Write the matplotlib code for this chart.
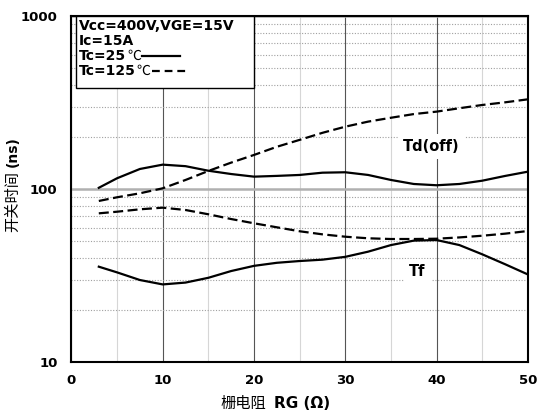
import matplotlib
matplotlib.use('Agg')
import matplotlib.pyplot as plt
from matplotlib.patches import Rectangle

# fonts: bold latin text, CJK fallback for the chinese labels
plt.rcParams['font.family'] = ['DejaVu Sans', 'Noto Sans CJK SC']
plt.rcParams['axes.unicode_minus'] = False

# gate resistance RG (ohm)
rg = [3, 5, 7.5, 10, 12.5, 15, 17.5, 20, 22.5, 25, 27.5, 30, 32.5, 35, 37.5, 40, 42.5, 45, 47.5, 50]

# switching times (ns)
td_off_25 = [102, 115.8, 131, 138.8, 136, 128, 122.5, 118.3, 119.5, 121, 124.7, 125.4, 121, 113.2, 107.3, 105.5, 107.3, 112.1, 119.4, 126.4]
td_off_125 = [85.6, 89.9, 94.8, 101.3, 113.2, 127.6, 142.6, 157.9, 176, 193, 212, 230, 246, 259, 272, 281, 294, 307, 318, 331]
tf_25 = [35.7, 33.1, 29.9, 28.2, 28.9, 30.8, 33.7, 36.1, 37.6, 38.5, 39.2, 40.7, 43.6, 47.6, 50.5, 50.9, 47.6, 42.1, 36.9, 32.2]
tf_125 = [72.6, 74.2, 76.6, 78.3, 75.9, 71.7, 67.3, 63.6, 60.3, 57.2, 54.9, 53.2, 52.1, 51.6, 51.6, 51.8, 52.7, 53.9, 55.4, 57.4]

x_ticks = [0, 10, 20, 30, 40, 50]
x_minor = [5, 15, 25, 35, 45]
y_ticks = [10, 100, 1000]
y_labels = ['10', '100', '1000']

cond_lines = ['Vcc=400V,VGE=15V', 'Ic=15A']
temp_lines = ['Tc=25', 'Tc=125']

fig = plt.figure(figsize=(5.37, 4.16), dpi=100)
ax = fig.add_axes([0.133, 0.129, 0.850, 0.832])

ax.set_yscale('log')
ax.set_xlim(0, 50)
ax.set_ylim(10, 1000)

ax.set_xticks(x_ticks)
ax.set_xticks(x_minor, minor=True)
ax.set_yticks(y_ticks, labels=y_labels)
ax.yaxis.set_minor_formatter(plt.NullFormatter())
ax.tick_params(which='both', length=0)
ax.tick_params(axis='y', pad=10)
ax.tick_params(axis='x', pad=8.5)
for lab in ax.get_xticklabels() + ax.get_yticklabels():
    lab.set_fontweight('bold')
    lab.set_fontsize(9.5)

# grid
ax.grid(which='major', axis='x', color='#555555', lw=0.8)
ax.grid(which='minor', axis='x', color='#d6d6d6', lw=0.8)
ax.grid(which='major', axis='y', color='#b0b0b0', lw=1.8)
ax.grid(which='minor', axis='y', color='#a0a0a0', lw=0.8, linestyle=(0, (1, 1.5)))
ax.set_axisbelow(True)

for sp in ax.spines.values():
    sp.set_linewidth(1.5)
    sp.set_color('black')

# curves
ax.plot(rg, td_off_25, color='black', lw=1.6, zorder=4)
ax.plot(rg, td_off_125, color='black', lw=1.6, dashes=(4.5, 2), zorder=4)
ax.plot(rg, tf_25, color='black', lw=1.6, zorder=4)
ax.plot(rg, tf_125, color='black', lw=1.6, dashes=(4.5, 2), zorder=4)

# curve names
box = dict(boxstyle='square,pad=0.35', fc='white', ec='none')
ax.text(39.4, 176, 'Td(off)', ha='center', va='center', fontsize=10.5, fontweight='bold', bbox=box, zorder=3)
ax.text(37.9, 33.4, 'Tf', ha='center', va='center', fontsize=10.5, fontweight='bold', bbox=box, zorder=3)

# condition box in the upper left
ax.add_patch(Rectangle((0.009, 0.7925), 0.392, 0.2075, transform=ax.transAxes,
                       fc='white', ec='black', lw=1, zorder=3))
baselines = [0.960, 0.917, 0.874, 0.830]
x0 = 0.0166
for txt, yb in zip(cond_lines, baselines[:2]):
    ax.text(x0, yb, txt, transform=ax.transAxes, ha='left', va='baseline',
            fontsize=10, fontweight='bold', zorder=4)

fig.canvas.draw()
renderer = fig.canvas.get_renderer()
inv = ax.transAxes.inverted()
styles = [dict(), dict(dashes=(3.5, 2.2))]
for txt, yb, st in zip(temp_lines, baselines[2:], styles):
    t1 = ax.text(x0, yb, txt, transform=ax.transAxes, ha='left', va='baseline',
                 fontsize=10, fontweight='bold', zorder=4)
    x1 = inv.transform(t1.get_window_extent(renderer))[1][0]
    t2 = ax.text(x1 + 0.002, yb, '\u2103', transform=ax.transAxes, ha='left', va='baseline',
                 fontsize=10, family=['Noto Sans CJK SC'], zorder=4)
    x2 = inv.transform(t2.get_window_extent(renderer))[1][0]
    ax.plot([x2 + 0.003, x2 + 0.085], [yb + 0.011, yb + 0.011], transform=ax.transAxes,
            color='black', lw=1.6, zorder=4, **st)

# axis titles (chinese part regular, latin part bold)
fig.text(266 / 537, 1 - 403 / 416, '栅电阻', ha='right', va='center', fontsize=11,
         family=['Noto Sans CJK SC'])
fig.text(274 / 537, 1 - 403 / 416, 'RG (Ω)', ha='left', va='center', fontsize=11, fontweight='bold')
fig.text(13 / 537, 1 - 232 / 416, '开关时间', ha='center', va='bottom', rotation=90, fontsize=11,
         family=['Noto Sans CJK SC'])
fig.text(13 / 537, 1 - 136 / 416, '(ns)', ha='center', va='top', rotation=90, fontsize=10, fontweight='bold')

fig.savefig('out.png', dpi=100)
plt.close(fig)
